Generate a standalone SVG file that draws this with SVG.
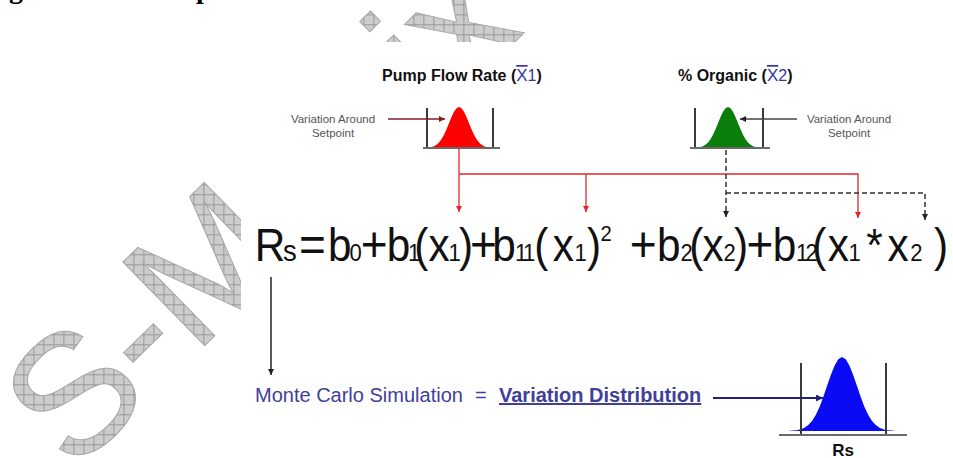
<svg xmlns="http://www.w3.org/2000/svg" width="953" height="458" viewBox="0 0 953 458">
<style>
.lbl{font-family:"Liberation Sans",Arial,sans-serif;font-size:11.5px;fill:#555;text-anchor:middle}
.ttl{font-family:"Liberation Sans",Arial,sans-serif;font-size:16px;font-weight:bold;fill:#111}
.xbar{font-weight:normal;fill:#3434a8;text-decoration:overline}
.xsub{font-weight:normal;fill:#3434a8}
.eq{font-family:"Liberation Sans",Arial,sans-serif;font-size:46px;fill:#111}
.sb{font-size:24px}
.op{font-size:50px}
.bar{stroke:#3a3a3a;stroke-width:2;fill:none}
.base{stroke:#6a6a6a;stroke-width:2;fill:none}
.red{stroke:#e3262c;stroke-width:1.3;fill:none}
.dash{stroke:#333;stroke-width:1.5;stroke-dasharray:5 3;fill:none}
.mc{font-family:"Liberation Sans",Arial,sans-serif;font-size:20px;fill:#40409a}
</style>
<defs>
<path id="bell" d="M-3.5,0 L-3.5,-0.0022 L-3.25,-0.0051 L-3,-0.0111 L-2.75,-0.0228 L-2.5,-0.0439 L-2.25,-0.0796 L-2,-0.1353 L-1.75,-0.2163 L-1.5,-0.3247 L-1.25,-0.4578 L-1,-0.6065 L-0.75,-0.7548 L-0.5,-0.8825 L-0.25,-0.9692 L0,-1 L0.25,-0.9692 L0.5,-0.8825 L0.75,-0.7548 L1,-0.6065 L1.25,-0.4578 L1.5,-0.3247 L1.75,-0.2163 L2,-0.1353 L2.25,-0.0796 L2.5,-0.0439 L2.75,-0.0228 L3,-0.0111 L3.25,-0.0051 L3.5,-0.0022 L3.5,0 Z"/>
<pattern id="hatch" patternUnits="userSpaceOnUse" width="10" height="10" patternTransform="rotate(44.4)">
<rect width="10" height="10" fill="#cdcdcd"/>
<path d="M0,0.5H10M0.5,0V10" stroke="#989898" stroke-width="1"/>
</pattern>
<marker id="aRed" markerUnits="userSpaceOnUse" markerWidth="7" markerHeight="7" refX="6" refY="3" orient="auto"><path d="M0,0L6,3L0,6z" fill="#e3262c"/></marker>
<marker id="aDark" markerUnits="userSpaceOnUse" markerWidth="7" markerHeight="7" refX="6" refY="3" orient="auto"><path d="M0,0L6,3L0,6z" fill="#222"/></marker>
<marker id="aNavy" markerUnits="userSpaceOnUse" markerWidth="8" markerHeight="8" refX="7" refY="3.5" orient="auto"><path d="M0,0L7,3.5L0,7z" fill="#22227a"/></marker>
<marker id="aMaroon" markerUnits="userSpaceOnUse" markerWidth="7" markerHeight="7" refX="6" refY="3" orient="auto"><path d="M0,0L6,3L0,6z" fill="#8a1c24"/></marker>
</defs>
<rect width="953" height="458" fill="#fff"/>
<g id="title-fragment" font-family="Liberation Serif,serif" font-weight="bold" font-size="28" fill="#000">
<text x="9" y="-2">g</text>
<text x="196" y="-2">p</text>
</g>
<g id="watermark" font-family="Liberation Sans,Arial,sans-serif" font-size="170" fill="url(#hatch)" stroke="#a6a6a6" stroke-width="1">
<text transform="translate(73.4,474.3) rotate(-44.4)">S-M</text>
<text transform="translate(73.4,474.3) rotate(-44.4)" x="510">ix</text>
</g>
<rect id="image-area" x="241" y="42" width="712" height="416" fill="#fff"/>
<g id="pump-flow">
<text class="ttl" x="382" y="81">Pump Flow Rate (<tspan class="xbar" font-size="17">X</tspan><tspan class="xsub" font-size="16">1</tspan>)</text>
<use href="#bell" transform="translate(459,148) scale(10,41)" fill="#ff0000"/>
<path class="bar" d="M427,108V149M493,108V149"/>
<path class="base" d="M423,148H500"/>
<text class="lbl" x="333" y="123">Variation Around</text>
<text class="lbl" x="333" y="137">Setpoint</text>
</g>
<g id="organic">
<text class="ttl" x="678" y="81">% Organic (<tspan class="xbar" font-size="17">X</tspan><tspan class="xsub" font-size="16">2</tspan>)</text>
<use href="#bell" transform="translate(728,148) scale(10,41)" fill="#0a7d0a"/>
<path class="bar" d="M695,108V149M763,108V149"/>
<path class="base" d="M690,148H770"/>
<text class="lbl" x="849" y="123">Variation Around</text>
<text class="lbl" x="849" y="137">Setpoint</text>
</g>
<g id="equation">
<text class="eq" y="261" transform="scale(0.92,1)"><tspan x="276.9">R</tspan><tspan x="307.7" font-size="30">s</tspan><tspan x="325" class="op">=</tspan><tspan x="356.5">b</tspan><tspan x="380" class="sb">0</tspan><tspan x="392" class="op">+</tspan><tspan x="420.5">b</tspan><tspan x="443.5" class="sb">1</tspan><tspan x="450.2">(</tspan><tspan x="465.9">x</tspan><tspan x="487.6" class="sb">1</tspan><tspan x="498.9">)</tspan><tspan x="511" class="op">+</tspan><tspan x="535">b</tspan><tspan x="559.8" class="sb">1</tspan><tspan x="568.5" class="sb">1</tspan><tspan x="580.6">(</tspan><tspan x="600.7">x</tspan><tspan x="624.6" class="sb">1</tspan><tspan x="638">)</tspan><tspan x="652.6" y="241" font-size="22">2</tspan><tspan x="684.5" y="261" class="op">+</tspan><tspan x="714">b</tspan><tspan x="739.8" class="sb">2</tspan><tspan x="749.1">(</tspan><tspan x="763.7">x</tspan><tspan x="786.3" class="sb">2</tspan><tspan x="797.8">)</tspan><tspan x="811.5" class="op">+</tspan><tspan x="840">b</tspan><tspan x="865.2" class="sb">1</tspan><tspan x="875.6" class="sb">2</tspan><tspan x="882.8">(</tspan><tspan x="899.6">x</tspan><tspan x="922.4" class="sb">1</tspan><tspan x="941.7">*</tspan><tspan x="964.8">x</tspan><tspan x="989.5" class="sb">2</tspan><tspan x="1015.2">)</tspan></text>
</g>
<g id="monte-carlo">
<text class="mc" x="255" y="402">Monte Carlo Simulation</text>
<text class="mc" x="475" y="402">=</text>
<text class="mc" x="499" y="402" font-weight="bold" fill="#2b2b86" text-decoration="underline">Variation Distribution</text>
</g>
<g id="result">
<use href="#bell" transform="translate(842,431) scale(15,74)" fill="#0a0af5"/>
<path class="bar" d="M801,363V435M886,363V435"/>
<path class="base" d="M779,435H907"/>
<text x="843" y="456" text-anchor="middle" font-family="Liberation Sans,Arial,sans-serif" font-weight="bold" font-size="17" fill="#111">Rs</text>
</g>
<g id="connectors">
<path class="red" d="M459,148V212" marker-end="url(#aRed)"/>
<path class="red" d="M459,174H858V218" marker-end="url(#aRed)"/>
<path class="red" d="M586,174V212" marker-end="url(#aRed)"/>
<path class="dash" d="M726,150V217" marker-end="url(#aDark)"/>
<path class="dash" d="M726,193H925V220" marker-end="url(#aDark)"/>
<path d="M271,277V375" stroke="#222" stroke-width="1.5" fill="none" marker-end="url(#aDark)"/>
<path d="M713,398H823" stroke="#22227a" stroke-width="2" fill="none" marker-end="url(#aNavy)"/>
<path d="M388,119H445" stroke="#8a1c24" stroke-width="1.3" fill="none" marker-end="url(#aMaroon)"/>
<path d="M797,119H740" stroke="#444" stroke-width="1.3" fill="none" marker-end="url(#aDark)"/>
</g>
</svg>
